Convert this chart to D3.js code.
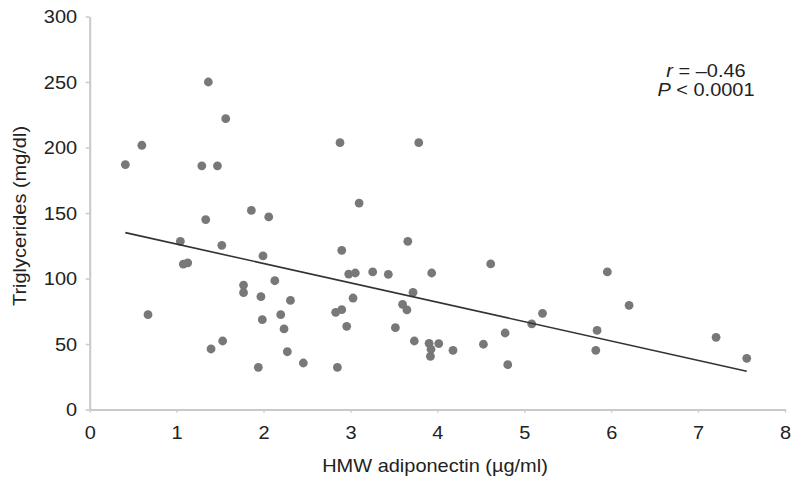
<!DOCTYPE html>
<html>
<head>
<meta charset="utf-8">
<script src="https://cdn.jsdelivr.net/npm/d3@7"></script>
<style>
  body { margin: 0; background: #fff; }
  svg { display: block; font-family: "Liberation Sans", Arial, sans-serif; }
</style>
</head>
<body>
<svg id="chart" width="800" height="487"></svg>
<script>
// HMW adiponectin (x) vs triglycerides (y)
var adiponectin = [
  1.365, 1.565, 0.60, 0.41, 1.29, 1.47, 2.88, 3.10, 1.86, 2.06,
  1.335, 3.786, 1.043, 1.52, 1.077, 1.128, 1.994, 2.90, 2.98, 3.056,
  3.256, 2.13, 1.77, 1.77, 1.97, 2.31, 3.03, 0.671, 2.198, 2.83,
  2.90, 1.986, 2.236, 2.957, 1.53, 1.396, 2.274, 2.458, 1.94, 2.85,
  3.66, 3.436, 3.935, 4.614, 5.956, 3.72, 3.60, 3.65, 6.206, 5.21,
  5.086, 3.517, 5.838, 4.78, 3.735, 3.905, 4.016, 3.927, 3.92, 4.18,
  4.53, 5.823, 4.81, 7.207, 7.56
];
var triglycerides = [
  250, 222, 201.7, 187, 186, 186, 203.7, 157.6, 152, 147,
  145, 203.7, 128.4, 125.3, 111, 112, 117.2, 121.5, 103.4, 104.2,
  105, 98.3, 95, 89.2, 86.1, 83.3, 85.1, 72.4, 72.4, 74.2,
  76.2, 68.6, 61.5, 63.5, 52.3, 46.2, 44.1, 35.5, 32.2, 32.2,
  128.4, 103.2, 104.2, 111.1, 105, 89.4, 80.3, 76, 79.5, 73.4,
  65.3, 62.5, 60.4, 58.4, 52.3, 50.5, 50.3, 46, 40.6, 45.2,
  49.8, 45.2, 34.2, 55.1, 39.1
];
// regression line end points
var fitX = [0.41, 7.56];
var fitY = [135, 29.2];

var xTicks = [0, 1, 2, 3, 4, 5, 6, 7, 8];
var yTicks = [0, 50, 100, 150, 200, 250, 300];

var svg = d3.select("#chart");

var x = d3.scaleLinear().domain([0, 8]).range([89.7, 785]);
var y = d3.scaleLinear().domain([0, 300]).range([409.5, 16.5]);

var axisColor = "#c9c9c9",
    textColor = "#222",
    fontSize = "18px",
    stretch = 1.11; // the figure's type is a little wider than Liberation Sans

// y axis
var gy = svg.append("g")
    .attr("transform", "translate(" + x(0) + ",0)")
    .call(d3.axisLeft(y).tickValues(yTicks).tickSize(4).tickPadding(7.3).tickSizeOuter(0));

// x axis
var gx = svg.append("g")
    .attr("transform", "translate(0," + y(0) + ")")
    .call(d3.axisBottom(x).tickValues(xTicks).tickSize(3).tickPadding(14).tickSizeOuter(0));

[gx, gy].forEach(function(g) {
  g.select(".domain").attr("stroke", axisColor).attr("stroke-width", 2);
  g.selectAll(".tick line").attr("stroke", axisColor).attr("stroke-width", 1.5);
  g.selectAll(".tick text")
      .attr("fill", textColor)
      .attr("transform", "scale(" + stretch + ",1)")
      .style("font-size", fontSize)
      .style("font-family", "'Liberation Sans', Arial, sans-serif");
});
gy.selectAll(".tick text").attr("dy", "0.36em");

// points
svg.append("g").selectAll("circle")
    .data(adiponectin.map(function(d, i) { return [d, triglycerides[i]]; }))
  .enter().append("circle")
    .attr("cx", function(d) { return x(d[0]); })
    .attr("cy", function(d) { return y(d[1]); })
    .attr("r", 4.4)
    .attr("fill", "#787878");

// fitted line
svg.append("line")
    .attr("x1", x(fitX[0])).attr("y1", y(fitY[0]))
    .attr("x2", x(fitX[1])).attr("y2", y(fitY[1]))
    .attr("stroke", "#333")
    .attr("stroke-width", 1.6);

// axis titles
svg.append("text")
    .attr("transform", "translate(435,472) scale(" + stretch + ",1)")
    .attr("text-anchor", "middle")
    .attr("fill", textColor)
    .style("font-size", fontSize)
    .text("HMW adiponectin (\u00b5g/ml)");

svg.append("text")
    .attr("transform", "translate(26,216) rotate(-90) scale(" + stretch + ",1)")
    .attr("text-anchor", "middle")
    .attr("fill", textColor)
    .style("font-size", fontSize)
    .text("Triglycerides (mg/dl)");

// statistics
var stat = svg.append("text")
    .attr("transform", "translate(706,0) scale(" + stretch + ",1)")
    .attr("text-anchor", "middle")
    .attr("fill", textColor)
    .style("font-size", fontSize);

var rLine = stat.append("tspan").attr("x", 0).attr("y", 77);
rLine.append("tspan").style("font-style", "italic").text("r");
rLine.append("tspan").text(" = \u20130.46");

var pLine = stat.append("tspan").attr("x", 0).attr("y", 96);
pLine.append("tspan").style("font-style", "italic").text("P");
pLine.append("tspan").text(" < 0.0001");
</script>
</body>
</html>
